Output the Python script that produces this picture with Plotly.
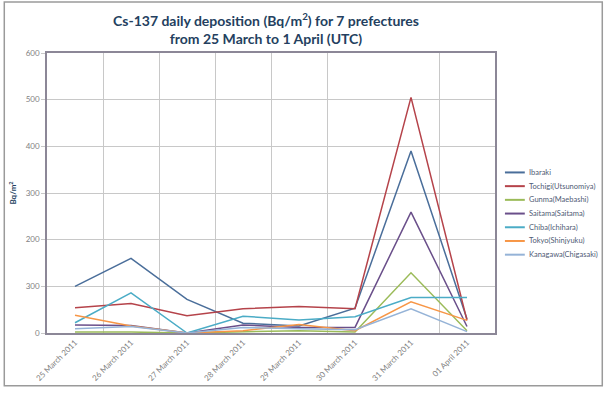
import plotly.graph_objects as go

categories = ["25 March 2011", "26 March 2011", "27 March 2011", "28 March 2011",
              "29 March 2011", "30 March 2011", "31 March 2011", "01 April 2011"]
series_names = ["Ibaraki", "Tochigi(Utsunomiya)", "Gunma(Maebashi)", "Saitama(Saitama)",
                "Chiba(Ichihara)", "Tokyo(Shinjyuku)", "Kanagawa(Chigasaki)"]
ibaraki = [100, 160, 72, 21, 15, 53, 390, 30]
tochigi = [54, 63, 37, 52, 57, 52, 505, 27]
gunma = [2, 2, 0, 3, 5, 2, 129, 5]
saitama = [17, 16, 0, 17, 12, 12, 259, 14]
chiba = [22, 86, 0, 36, 28, 35, 76, 76]
tokyo = [38, 15, 0, 5, 18, 5, 67, 27]
kanagawa = [9, 14, 0, 12, 9, 7, 52, 3]
y_tickvals = [0, 100, 200, 300, 400, 500, 600]
y_ticktext = ["0", "300", "200", "300", "400", "500", "600"]
title_text = "<b>Cs-137 daily deposition (Bq/m<sup>2</sup>) for 7 prefectures<br>from 25 March to 1 April (UTC)</b>"

colors = ["#4A6E9A", "#B5434A", "#9BBB59", "#6A4F8A", "#4BACC6", "#F79646", "#95B3D7"]
values = [ibaraki, tochigi, gunma, saitama, chiba, tokyo, kanagawa]

x_idx = list(range(len(categories)))
# vertical gridlines between categories (the reference lacks the 30/31 March one)
grid_between = [0.5, 1.5, 2.5, 3.5, 4.5, 6.5]

fig = go.Figure()
for name, vals, col in zip(series_names, values, colors):
    fig.add_trace(go.Scatter(x=x_idx, y=vals, mode="lines", name=name,
                             line=dict(color=col, width=1.5), showlegend=False))

W, H = 605, 395
L, R, T, B = 44, 110, 53, 56
pw, ph = W - L - R, H - T - B

def px(xp):
    return (xp - L) / pw

def py(yp):
    return (H - B - yp) / ph

fig.update_layout(
    width=W, height=H,
    margin=dict(l=L, r=R, t=T, b=B, pad=0),
    paper_bgcolor="white", plot_bgcolor="white",
    font=dict(family="Lato, Liberation Sans, sans-serif", color="#7F7F7F", size=8),
    showlegend=False,
    xaxis=dict(range=[-0.5, 7.5], tickvals=x_idx, ticktext=categories, tickangle=-45,
               showgrid=False, zeroline=False, showline=True, linecolor="#8C8797",
               linewidth=1.5, mirror=True, ticks="",
               tickfont=dict(size=8, color="#7F7F7F"),
               minor=dict(tickmode="array", tickvals=grid_between, showgrid=True,
                          gridcolor="#C8C8C8", gridwidth=1, ticks="")),
    yaxis=dict(range=[0, 600], tickvals=y_tickvals, ticktext=y_ticktext,
               showgrid=True, gridcolor="#C8C8C8", gridwidth=1, zeroline=False,
               showline=True, linecolor="#8C8797", linewidth=1.5, mirror=True,
               ticks="outside", ticklen=4, tickcolor="#C8C8C8",
               tickfont=dict(size=8, color="#7F7F7F"),
               title=dict(text="<b>Bq/m<sup>2</sup></b>", standoff=8,
                          font=dict(size=8, color="#243F60"))),
)

# title as an annotation (two centred lines)
fig.add_annotation(xref="paper", yref="paper", x=px(264), y=py(28),
                   xanchor="center", yanchor="middle", showarrow=False,
                   text=title_text, align="center",
                   font=dict(family="Lato, sans-serif", size=14, color="#243F60"))

# custom compact legend
for i, (name, col) in enumerate(zip(series_names, colors)):
    yy = 175 + 14 * i
    fig.add_shape(type="line", xref="paper", yref="paper",
                  x0=px(505), x1=px(525), y0=py(yy), y1=py(yy),
                  line=dict(color=col, width=2))
    fig.add_annotation(xref="paper", yref="paper", x=px(527), y=py(yy),
                       xanchor="left", yanchor="middle", showarrow=False,
                       text=name, font=dict(size=7.5, color="#4F5B75"))

# outer chart border
fig.add_shape(type="rect", xref="paper", yref="paper",
              x0=px(1), x1=px(603), y0=py(393), y1=py(1),
              line=dict(color="#9A9A9A", width=1.5), fillcolor="rgba(0,0,0,0)", layer="below")

fig.write_html("out.html", config={"displayModeBar": False},
               post_script="document.body.style.margin='0';document.body.style.overflow='hidden';")
